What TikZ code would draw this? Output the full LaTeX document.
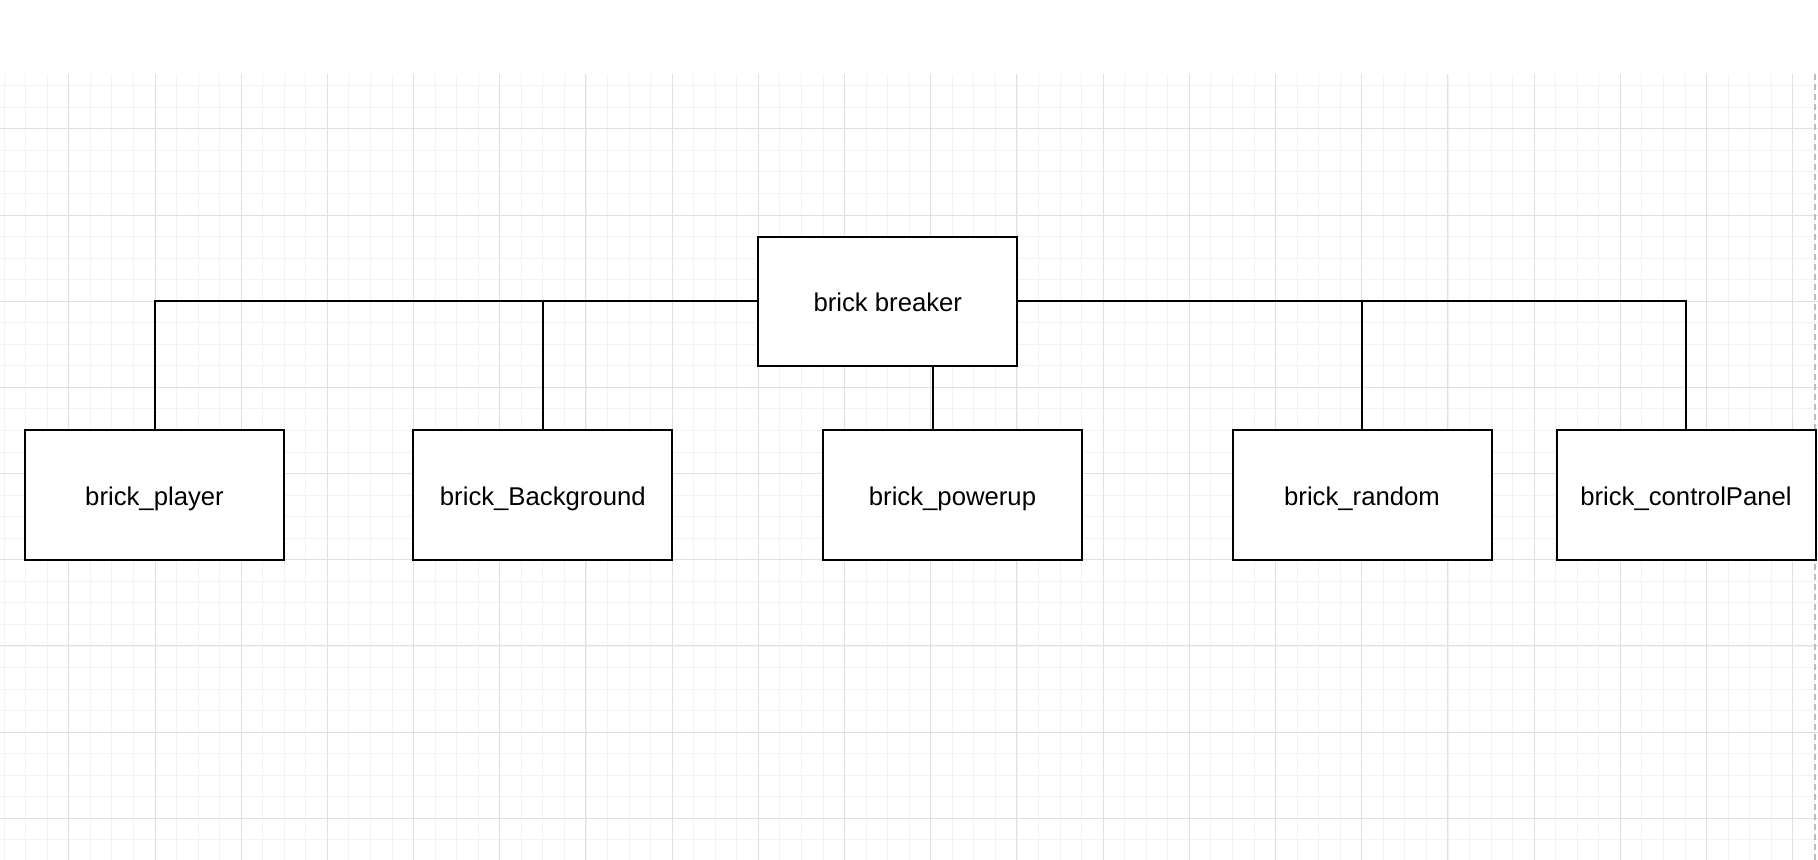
\documentclass[tikz,border=0pt]{standalone}
\usepackage{fontspec}
\setmainfont{Liberation Sans}
\definecolor{gridminor}{HTML}{F2F2F2}
\definecolor{gridmajor}{HTML}{E0E0E0}
\definecolor{pageedge}{HTML}{BDBDBD}
\tikzset{
  minorline/.style={draw=gridminor, line width=0.5pt},
  majorline/.style={draw=gridmajor, line width=0.5pt},
  box/.style={draw=black, fill=white, line width=1pt, minimum width=129.5pt, minimum height=64.6pt, inner sep=0pt, text height=10.5pt, text depth=0pt, font=\fontsize{12.85pt}{15pt}\selectfont},
  link/.style={draw=black, line width=1pt},
}
\begin{document}
\begin{tikzpicture}[x=0.5pt,y=-0.5pt]
\useasboundingbox (0,0) rectangle (1818,860);
\fill[white] (0,0) rectangle (1818,860);
% grid
\begin{scope}
\clip (0,74) rectangle (1818,860);
\foreach \k in {-3,...,81} {
  \pgfmathsetmacro\gx{round(68.3+\k*21.55)+0.5}
  \draw[minorline] (\gx,74) -- (\gx,860);
}
\foreach \k in {-3,...,34} {
  \pgfmathsetmacro\gy{round(128.3+\k*21.55)+0.5}
  \draw[minorline] (0,\gy) -- (1818,\gy);
}
\foreach \k in {-1,...,20} {
  \pgfmathsetmacro\gx{round(68.3+\k*86.2)+0.5}
  \draw[majorline] (\gx,74) -- (\gx,860);
}
\foreach \k in {-1,...,9} {
  \pgfmathsetmacro\gy{round(128.3+\k*86.2)+0.5}
  \draw[majorline] (0,\gy) -- (1818,\gy);
}
\end{scope}
\draw[pageedge, line width=1pt, dash pattern=on 3pt off 2pt] (1814.5,74) -- (1814.5,860);
% nodes
\node[box] (breaker) at (887.8,301.2) {brick breaker};
\node[box] (player) at (154.5,495) {brick\_player};
\node[box] (background) at (542.8,495) {brick\_Background};
\node[box] (powerup) at (952.5,495) {brick\_powerup};
\node[box] (random) at (1362,495) {brick\_random};
\node[box] (control) at (1686,495) {brick\_controlPanel};
\coordinate (pux) at (933,0);
% connectors
\draw[link] (breaker.west) -| (player.north);
\draw[link] (breaker.west) -| (background.north);
\draw[link] (breaker.south -| pux) -- (powerup.north -| pux);
\draw[link] (breaker.east) -| (random.north);
\draw[link] (breaker.east) -| (control.north);
\end{tikzpicture}
\end{document}
